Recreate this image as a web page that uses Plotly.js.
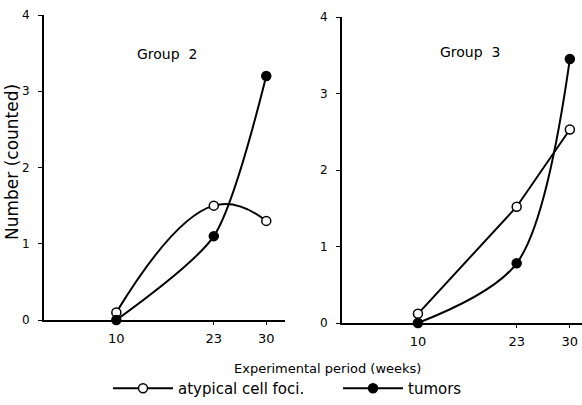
<!DOCTYPE html>
<html>
<head>
<meta charset="utf-8">
<script src="https://cdn.plot.ly/plotly-3.0.1.min.js"></script>
<style>html,body{margin:0;padding:0;background:#fff}#chart{width:582px;height:405px}</style>
</head>
<body>
<div id="chart"></div>
<script>
var weeks = [10, 23, 30];
var g2Atypical = [0.1, 1.5, 1.3];
var g2Tumors = [0, 1.1, 3.2];
var g3Atypical = [0.12, 1.52, 2.53];
var g3Tumors = [0, 0.78, 3.45];
var yTicks = [0, 1, 2, 3, 4];
var seriesNames = ['atypical cell foci.', 'tumors'];
var panelNames = ['Group  2', 'Group  3'];

var F = 'DejaVu Sans, sans-serif';
var openMarker = {symbol: 'circle', size: 9, color: '#fff', line: {color: '#000', width: 1.5}};
var fillMarker = {symbol: 'circle', size: 9, color: '#000', line: {color: '#000', width: 1.5}};

var traces = [
  {x: weeks, y: g2Atypical, xaxis: 'x', yaxis: 'y', mode: 'lines+markers', name: seriesNames[0], legend: 'legend',
   line: {color: '#000', width: 2, shape: 'spline', smoothing: 1.3}, marker: openMarker, cliponaxis: false},
  {x: weeks, y: g2Tumors, xaxis: 'x', yaxis: 'y', mode: 'lines+markers', name: seriesNames[1], legend: 'legend2',
   line: {color: '#000', width: 2, shape: 'spline', smoothing: 0.7}, marker: fillMarker, cliponaxis: false},
  {x: weeks, y: g3Atypical, xaxis: 'x2', yaxis: 'y2', mode: 'lines+markers', name: seriesNames[0], showlegend: false,
   line: {color: '#000', width: 2}, marker: openMarker, cliponaxis: false},
  {x: weeks, y: g3Tumors, xaxis: 'x2', yaxis: 'y2', mode: 'lines+markers', name: seriesNames[1], showlegend: false,
   line: {color: '#000', width: 2, shape: 'spline', smoothing: 0.9}, marker: fillMarker, cliponaxis: false}
];

function xax(domain, range, anchor) {
  return {domain: domain, range: range, anchor: anchor, tickvals: weeks, ticktext: weeks.map(String),
    showline: true, linecolor: '#000', linewidth: 2, ticks: 'outside', ticklen: 3, tickcolor: '#000',
    showgrid: false, zeroline: false, tickfont: {family: F, size: 13, color: '#000'}, ticklabelstandoff: 2, fixedrange: true};
}
function yax(domain, anchor, suffix) {
  return {domain: domain, range: [0, 4], anchor: anchor, tickvals: yTicks, ticksuffix: suffix,
    showline: true, linecolor: '#000', linewidth: 2, ticks: 'outside', ticklen: 4, tickcolor: '#000',
    showgrid: false, zeroline: false, tickfont: {family: F, size: 12, color: '#000'}, ticklabelstandoff: 6, fixedrange: true};
}

function leg(x) {
  return {orientation: 'h', x: x, xanchor: 'left', y: 0, yanchor: 'bottom',
    font: {family: F, size: 15, color: '#000'}, itemwidth: 60, bgcolor: 'rgba(0,0,0,0)'};
}

function note(text, x, y, size, angle) {
  return {text: text, xref: 'paper', yref: 'paper', x: x / 582, y: (405 - y) / 405, xanchor: 'center', yanchor: 'middle',
    textangle: angle || 0, showarrow: false, font: {family: F, size: size, color: '#000'}};
}

var layout = {
  width: 582, height: 405, autosize: false,
  margin: {l: 0, r: 0, t: 0, b: 0},
  paper_bgcolor: '#fff', plot_bgcolor: '#fff',
  font: {family: F, color: '#000'},
  xaxis: xax([44/582, 285/582], [0.35, 32.5], 'y'),
  yaxis: yax([(405-320)/405, (405-15)/405], 'x', '\u2007'),
  xaxis2: xax([342/582, 1], [0, 31.6], 'y2'),
  yaxis2: yax([(405-323)/405, (405-17)/405], 'x2', ''),
  showlegend: true,
  legend: leg(108/582),
  legend2: leg(338/582),
  annotations: [
    note(panelNames[0], 167, 54, 14),
    note(panelNames[1], 470, 52, 14),
    note('Experimental period (weeks)', 327, 368, 13),
    note('Number (counted)', 12, 162, 17, -90)
  ]
};

Plotly.newPlot('chart', traces, layout, {displayModeBar: false, staticPlot: true});
</script>
</body>
</html>
